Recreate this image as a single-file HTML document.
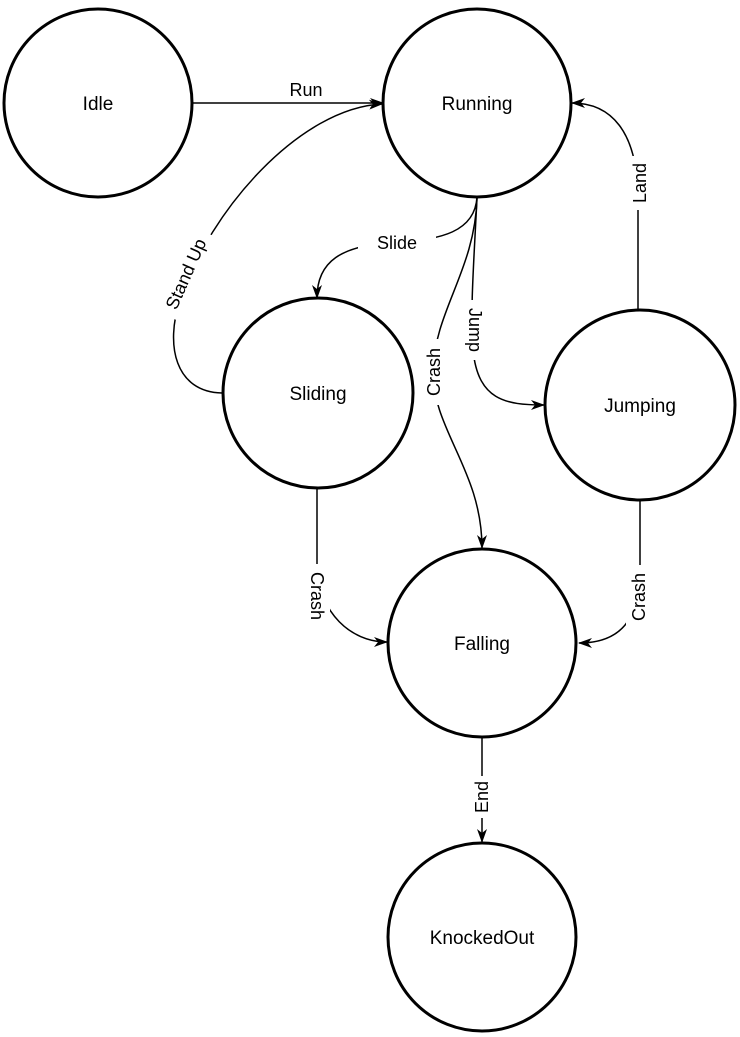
<!DOCTYPE html>
<html><head><style>body{margin:0;background:#fff}svg{display:block}</style></head>
<body>
<svg width="740" height="1037" viewBox="0 0 740 1037" xmlns="http://www.w3.org/2000/svg" font-family="Liberation Sans, sans-serif">
<defs><marker id="a" markerWidth="14" markerHeight="10" refX="13" refY="5" orient="auto" markerUnits="userSpaceOnUse"><path d="M0,0 L14,5 L0,10 L4,5 Z" fill="#000"/></marker></defs>
<g fill="none" stroke="#000" stroke-width="1.5">
<path d="M193,103 L383,103" marker-end="url(#a)"/>
<path d="M222,393 C175,392 165,345 180,300 C210,210 300,108 382,104" marker-end="url(#a)"/>
<path d="M477,197 C475,232 440,240 397,242 C340,245 317,262 317,298" marker-end="url(#a)"/>
<path d="M477,198 C475,270 435,310 433,370 C432,430 482,470 482,548" marker-end="url(#a)"/>
<path d="M477,198 C474,260 470,310 473,350 C478,400 505,405 544,405" marker-end="url(#a)"/>
<path d="M638,310 L638,200 C638,130 610,103 572,103" marker-end="url(#a)"/>
<path d="M317,488 L317,570 C320,612 350,642 387,642" marker-end="url(#a)"/>
<path d="M640,500 L640,570 C640,620 620,643 579,643" marker-end="url(#a)"/>
<path d="M482,737 L482,842" marker-end="url(#a)"/>
</g>
<g fill="#fff" stroke="#000" stroke-width="3">
<circle cx="98" cy="103" r="94"/>
<circle cx="477" cy="103" r="94"/>
<circle cx="318" cy="393" r="95"/>
<circle cx="640" cy="405" r="95"/>
<circle cx="482" cy="643" r="94"/>
<circle cx="482" cy="937" r="94"/>
</g>
<g font-size="19" text-anchor="middle" fill="#000">
<text x="98" y="110">Idle</text>
<text x="477" y="110">Running</text>
<text x="318" y="400">Sliding</text>
<text x="640" y="412">Jumping</text>
<text x="482" y="650">Falling</text>
<text x="482" y="944">KnockedOut</text>
</g>
<g font-size="18" text-anchor="middle" fill="#000">
<text x="306" y="96">Run</text>
<rect x="358" y="229" width="78" height="26" fill="#fff"/>
<text x="397" y="249">Slide</text>
<g transform="translate(186,274) rotate(-66)"><rect x="-46" y="-13" width="92" height="26" fill="#fff"/><text y="6">Stand Up</text></g>
<g transform="translate(434,372) rotate(-90)"><rect x="-33" y="-13" width="66" height="26" fill="#fff"/><text y="6">Crash</text></g>
<g transform="translate(475,330) rotate(90)"><rect x="-30" y="-13" width="60" height="26" fill="#fff"/><text y="6">Jump</text></g>
<g transform="translate(640,183) rotate(-90)"><rect x="-27" y="-13" width="54" height="26" fill="#fff"/><text y="6">Land</text></g>
<g transform="translate(317,596) rotate(90)"><rect x="-32" y="-13" width="64" height="26" fill="#fff"/><text y="6">Crash</text></g>
<g transform="translate(639,597) rotate(-90)"><rect x="-32" y="-13" width="64" height="26" fill="#fff"/><text y="6">Crash</text></g>
<g transform="translate(482,797) rotate(-90)"><rect x="-21" y="-13" width="42" height="26" fill="#fff"/><text y="6">End</text></g>
</g>
</svg>
</body></html>
